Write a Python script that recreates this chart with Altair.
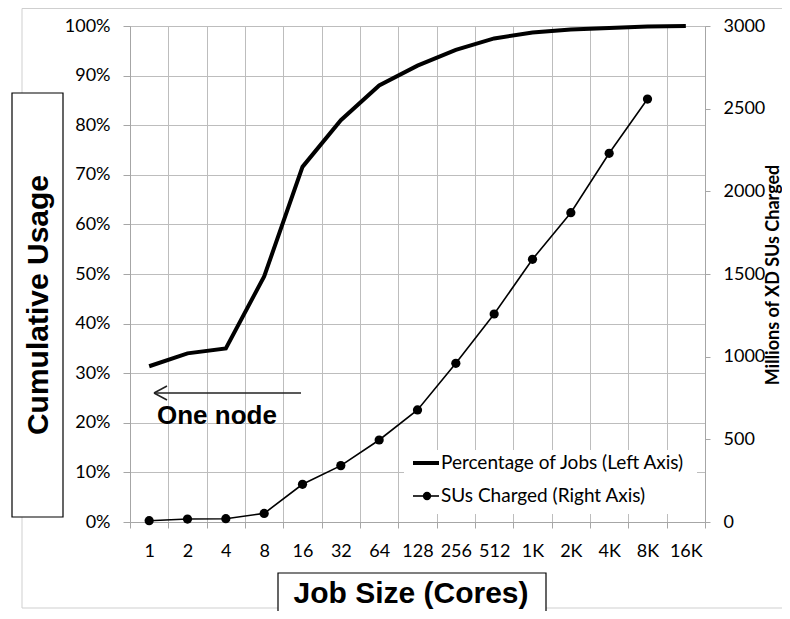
import altair as alt
import pandas as pd

# ---------------- data ----------------
sizes = ["1", "2", "4", "8", "16", "32", "64", "128", "256", "512",
         "1K", "2K", "4K", "8K", "16K"]
pct_jobs = [0.314, 0.340, 0.350, 0.495, 0.716, 0.810, 0.880, 0.920,
            0.952, 0.975, 0.987, 0.993, 0.996, 0.999, 1.000]
su_sizes = ["1", "2", "4", "8", "16", "32", "64", "128", "256", "512",
            "1K", "2K", "4K", "8K"]
su_millions = [8, 18, 20, 52, 228, 341, 496, 678, 960, 1258,
               1589, 1871, 2230, 2558]
left_ticks = [0.0, 0.1, 0.2, 0.3, 0.4, 0.5, 0.6, 0.7, 0.8, 0.9, 1.0]
right_ticks = [0, 500, 1000, 1500, 2000, 2500, 3000]
legend_labels = ["Percentage of Jobs (Left Axis)", "SUs Charged (Right Axis)"]
left_title = "Cumulative Usage"
bottom_title = "Job Size (Cores)"
right_title = "Millions of XD SUs Charged"
note_text = "One node"

df_pct = pd.DataFrame({"size": sizes, "pct": pct_jobs})
df_su = pd.DataFrame({"size": su_sizes, "su": su_millions})
one = pd.DataFrame({"k": [0]})

# ---------------- styling ----------------
W, H = 575, 496
FONT = "Lato"
BOLD = "Liberation Sans"
GRID = "#bdbdbd"
AXIS = "#a6a6a6"

x_enc = alt.X(
    "size:N", sort=sizes, bandPosition=0.5,
    scale=alt.Scale(type="band", domain=sizes, paddingInner=0, paddingOuter=0),
    axis=alt.Axis(title=None, tickBand="extent", grid=True, gridColor=GRID,
                  domainColor=AXIS, tickColor=AXIS, tickSize=6, labelAngle=0,
                  labelFont=FONT, labelFontSize=18, labelColor="black",
                  labelPadding=14),
)

pct_line = alt.Chart(df_pct).mark_line(color="black", strokeWidth=4).encode(
    x=x_enc,
    y=alt.Y("pct:Q", scale=alt.Scale(domain=[0, 1], nice=False),
            axis=alt.Axis(title=None, orient="left", values=left_ticks,
                          format=".0%", grid=True, gridColor=GRID,
                          domainColor=AXIS, tickColor=AXIS, tickSize=7,
                          labelFont=FONT, labelFontSize=18, labelColor="black",
                          labelPadding=13)),
)

su_base = alt.Chart(df_su).encode(
    x=x_enc,
    y=alt.Y("su:Q", scale=alt.Scale(domain=[0, 3000], nice=False),
            axis=alt.Axis(title=None, orient="right", values=right_ticks,
                          format="d", grid=False, domainColor=AXIS,
                          tickColor=AXIS, tickSize=5, labelFont=FONT,
                          labelFontSize=18, labelColor="black",
                          labelPadding=13)),
)
su_layer = alt.layer(
    su_base.mark_line(color="black", strokeWidth=1.6),
    su_base.mark_circle(color="black", size=85, opacity=1),
)

main = alt.layer(pct_line, su_layer).resolve_scale(y="independent")


def deco():
    return alt.Chart(one)


# outer frame
frame = deco().mark_rect(filled=False, stroke="#cfcfcf", strokeWidth=1).encode(
    x=alt.value(-108), x2=alt.value(700), y=alt.value(-17.5), y2=alt.value(582))

# axis title boxes
left_box = deco().mark_rect(fill="white", stroke="black", strokeWidth=1.2).encode(
    x=alt.value(-118), x2=alt.value(-67), y=alt.value(67), y2=alt.value(491))
left_txt = deco().mark_text(text=left_title, angle=270, font=BOLD, fontWeight="bold",
                            fontSize=30, align="center", baseline="middle",
                            color="black").encode(x=alt.value(-91), y=alt.value(279))
bot_box = deco().mark_rect(fill="white", stroke="black", strokeWidth=1.2).encode(
    x=alt.value(148), x2=alt.value(416), y=alt.value(547), y2=alt.value(620))
bot_txt = deco().mark_text(text=bottom_title, font=BOLD, fontWeight="bold",
                           fontSize=30, align="center", baseline="alphabetic",
                           color="black").encode(x=alt.value(281), y=alt.value(577))
right_txt = deco().mark_text(text=right_title, angle=270, font=FONT, fontWeight="bold",
                             fontSize=18, align="center", baseline="middle",
                             color="black").encode(x=alt.value(644), y=alt.value(249))

# annotation arrow + text
arrow_shaft = deco().mark_rule(color="#222222", strokeWidth=1.5).encode(
    x=alt.value(24), x2=alt.value(171), y=alt.value(367), y2=alt.value(367))
arrow_up = deco().mark_rule(color="#222222", strokeWidth=1.5).encode(
    x=alt.value(24), x2=alt.value(37), y=alt.value(367), y2=alt.value(360))
arrow_dn = deco().mark_rule(color="#222222", strokeWidth=1.5).encode(
    x=alt.value(24), x2=alt.value(37), y=alt.value(367), y2=alt.value(374))
note = deco().mark_text(text=note_text, font=BOLD, fontWeight="bold", fontSize=26,
                        align="left", baseline="alphabetic", color="black").encode(
    x=alt.value(27), y=alt.value(398))

# legend
leg_box = deco().mark_rect(fill="white", stroke=None).encode(
    x=alt.value(274), x2=alt.value(567), y=alt.value(424), y2=alt.value(488))
leg_l1 = deco().mark_rule(color="black", strokeWidth=4).encode(
    x=alt.value(283), x2=alt.value(309), y=alt.value(437), y2=alt.value(437))
leg_l2 = deco().mark_rule(color="black", strokeWidth=1.6).encode(
    x=alt.value(283), x2=alt.value(309), y=alt.value(470), y2=alt.value(470))
leg_pt = deco().mark_circle(color="black", size=70, opacity=1).encode(
    x=alt.value(297), y=alt.value(470))
leg_t1 = deco().mark_text(text=legend_labels[0], font=FONT, fontSize=19, align="left",
                          baseline="middle", color="black").encode(
    x=alt.value(311), y=alt.value(437))
leg_t2 = deco().mark_text(text=legend_labels[1], font=FONT, fontSize=19, align="left",
                          baseline="middle", color="black").encode(
    x=alt.value(311), y=alt.value(470))

chart = alt.layer(
    frame, left_box, left_txt, bot_box, bot_txt, right_txt,
    main,
    leg_box, leg_l1, leg_l2, leg_pt, leg_t1, leg_t2,
    arrow_shaft, arrow_up, arrow_dn, note,
).properties(
    width=W, height=H,
    padding={"left": 122, "top": 18, "right": 77, "bottom": 89},
    autosize=alt.AutoSizeParams(type="none"),
).configure_view(stroke=None).configure(background="white")

chart.save("out.html", embed_options={"renderer": "svg", "actions": False})
